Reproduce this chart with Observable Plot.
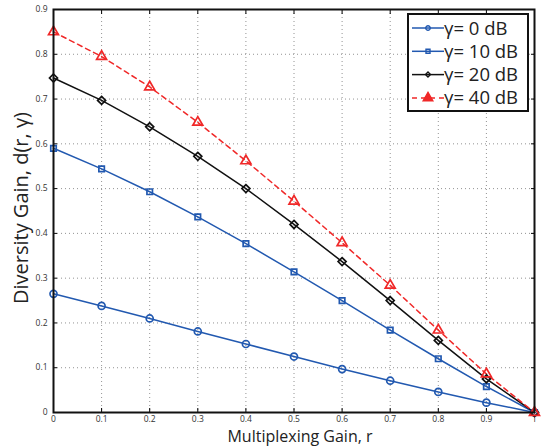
<!DOCTYPE html>
<html>
<head>
<meta charset="utf-8">
<script src="https://cdn.jsdelivr.net/npm/d3@7"></script>
<script src="https://cdn.jsdelivr.net/npm/@observablehq/plot@0.6"></script>
<style>
  html, body { margin: 0; padding: 0; background: #fff; }
  #wrap { position: relative; width: 541px; height: 447px; }
  #legend { position: absolute; left: 407px; top: 13px; }
  text { font-family: "Open Sans", "Noto Sans", sans-serif; }
</style>
</head>
<body>
<div id="wrap"></div>
<script>
const rValues = [0, 0.1, 0.2, 0.3, 0.4, 0.5, 0.6, 0.7, 0.8, 0.9, 1];
const seriesNames = ["γ= 0 dB", "γ= 10 dB", "γ= 20 dB", "γ= 40 dB"];
const gain0dB  = [0.265, 0.238, 0.210, 0.181, 0.153, 0.125, 0.097, 0.071, 0.046, 0.022, 0];
const gain10dB = [0.590, 0.544, 0.493, 0.437, 0.377, 0.314, 0.250, 0.184, 0.120, 0.058, 0];
const gain20dB = [0.747, 0.697, 0.638, 0.572, 0.500, 0.420, 0.337, 0.250, 0.161, 0.075, 0];
const gain40dB = [0.850, 0.795, 0.727, 0.648, 0.562, 0.472, 0.379, 0.284, 0.184, 0.086, 0];
const xTicks = [0, 0.1, 0.2, 0.3, 0.4, 0.5, 0.6, 0.7, 0.8, 0.9, 1];
const yTicks = [0, 0.1, 0.2, 0.3, 0.4, 0.5, 0.6, 0.7, 0.8, 0.9];

const styles = [
  {stroke: "#2259b0", symbol: "circle", r: 3.5, dash: null},
  {stroke: "#2259b0", symbol: "square", r: 3.1, dash: null},
  {stroke: "#111111", symbol: "diamond2", r: 3.6, dash: null},
  {stroke: "#f02828", symbol: "triangle", r: 3.7, dash: "5,4"}
];
const allSeries = [gain0dB, gain10dB, gain20dB, gain40dB];

const data = [];
allSeries.forEach((vals, i) => vals.forEach((v, j) => data.push({series: seriesNames[i], idx: i, r: rValues[j], d: v})));

const fmt = v => v === 0 ? "0" : v === 1 ? "1" : d3.format(".1f")(v);
const marks = [
  Plot.gridX(xTicks, {stroke: "#777", strokeOpacity: 1, strokeDasharray: "1,3", strokeWidth: 0.8}),
  Plot.gridY(yTicks, {stroke: "#777", strokeOpacity: 1, strokeDasharray: "1,3", strokeWidth: 0.8}),
  Plot.axisX(xTicks, {anchor: "bottom", tickSize: 0, tickPadding: 3, tickFormat: fmt, fontSize: 8.5, fill: "#333", label: null}),
  Plot.axisY(yTicks, {anchor: "left", tickSize: 0, tickPadding: 6, tickFormat: fmt, fontSize: 8.5, fill: "#333", label: null}),
  Plot.axisX(xTicks, {anchor: "bottom", tickSize: -4, text: null, label: null, strokeWidth: 1}),
  Plot.axisX(xTicks, {anchor: "top", tickSize: -4, text: null, label: null, strokeWidth: 1}),
  Plot.axisY(yTicks, {anchor: "left", tickSize: -4, text: null, label: null, strokeWidth: 1}),
  Plot.axisY(yTicks, {anchor: "right", tickSize: -4, text: null, label: null, strokeWidth: 1})
];
styles.forEach((s, i) => {
  const sub = data.filter(d => d.idx === i);
  marks.push(Plot.line(sub, {x: "r", y: "d", stroke: s.stroke, strokeWidth: 1.5, strokeDasharray: s.dash}));
});
styles.forEach((s, i) => {
  const sub = data.filter(d => d.idx === i);
  marks.push(Plot.dot(sub, {x: "r", y: "d", stroke: s.stroke, symbol: () => s.symbol, r: s.r, fill: "none", strokeWidth: 1.7}));
});
marks.push(Plot.frame({stroke: "#111", strokeWidth: 2}));

const chart = Plot.plot({
  width: 541,
  height: 447,
  marginLeft: 53,
  marginRight: 7,
  marginTop: 9,
  marginBottom: 35,
  x: {domain: [0, 1]},
  y: {domain: [0, 0.9]},
  symbol: {type: "identity"},
  style: {fontFamily: "'Open Sans', 'Noto Sans', sans-serif", background: "#fff"},
  marks
});
document.getElementById("wrap").appendChild(chart);

// Axis titles
const svg = d3.select(chart);
svg.append("text").attr("x", 300).attr("y", 442).attr("text-anchor", "middle")
  .attr("font-size", 16).attr("fill", "#222").text("Multiplexing Gain, r");
svg.append("text").attr("transform", "translate(28,208) rotate(-90)").attr("text-anchor", "middle")
  .attr("font-size", 20).attr("fill", "#222").text("Diversity Gain, d(r, γ)");

// Legend
const lw = 122, lh = 99;
const leg = d3.select("#wrap").append("div").attr("id", "legend")
  .append("svg").attr("width", lw).attr("height", lh);
leg.append("rect").attr("x", 1).attr("y", 1).attr("width", lw - 2).attr("height", lh - 2)
  .attr("fill", "#fff").attr("stroke", "#111").attr("stroke-width", 2);
const symMap = {circle: d3.symbolCircle, square: d3.symbolSquare, diamond2: d3.symbolDiamond2, triangle: d3.symbolTriangle};
seriesNames.forEach((name, i) => {
  const s = styles[i];
  const y = 15 + i * 23.3;
  leg.append("line").attr("x1", 5).attr("x2", 37).attr("y1", y).attr("y2", y)
    .attr("stroke", s.stroke).attr("stroke-width", 1.5).attr("stroke-dasharray", s.dash);
  leg.append("path").attr("transform", `translate(21,${y})`)
    .attr("d", d3.symbol(symMap[s.symbol], s.symbol === "triangle" ? 40 : 16)())
    .attr("fill", s.symbol === "triangle" ? s.stroke : "none").attr("stroke", s.stroke).attr("stroke-width", 1.4);
  leg.append("text").attr("x", 37).attr("y", y + 6.5).attr("font-size", 18.5).attr("fill", "#222")
    .attr("font-family", "'Open Sans', 'Noto Sans', sans-serif").text(name);
});
</script>
</body>
</html>
